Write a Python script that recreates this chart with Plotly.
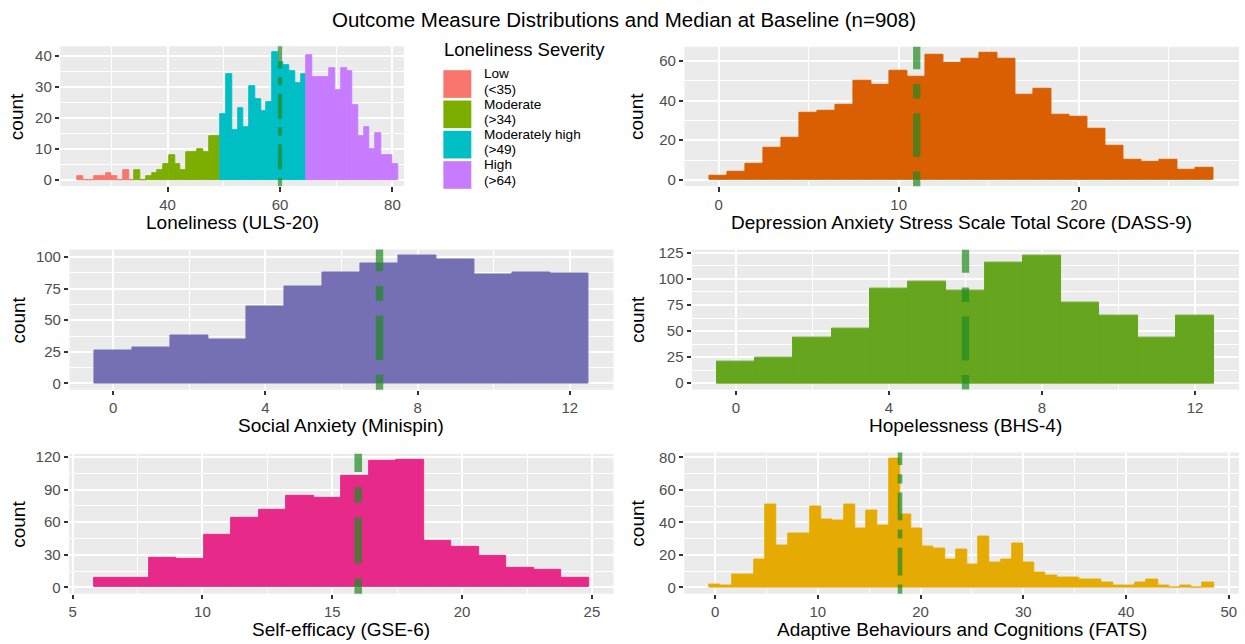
import numpy as np
import plotly.graph_objects as go

W, H = 1245, 644
FONT = "Liberation Sans, Arial, Helvetica, sans-serif"

# ------------------------------------------------------------------ data
title_text = "Outcome Measure Distributions and Median at Baseline (n=908)"

# Loneliness (ULS-20) histogram: 56 bins
lon_bin_start = 23.94
lon_bin_width = 1.02
lon_counts = [1, 0, 0, 1, 1, 2, 1, 0, 3, 0,
              3, 0, 1, 2, 3, 5, 8, 5, 3, 9, 9, 10, 9, 14, 14,
              21, 34, 16, 23, 17, 30, 26, 22, 25, 41, 38, 37, 35, 31, 34,
              40, 33, 33, 33, 36, 29, 36, 35, 24, 14, 17, 10, 15, 8, 8, 5]
lon_cut_points = [35, 50, 65]
lon_groups = ["Low", "Moderate", "Moderately high", "High"]
lon_group_limits = ["(&lt;35)", "(&gt;34)", "(&gt;49)", "(&gt;64)"]
lon_colors = ["#F8766D", "#7CAE00", "#00BFC4", "#C77CFF"]
lon_median = 60
lon_xticks = [40, 60, 80]
lon_yticks = [0, 10, 20, 30, 40]

# DASS-9
dass_scores = list(range(0, 28))
dass_counts = [2, 4, 8, 16, 21, 34, 35, 38, 50, 48, 55, 52, 63, 59, 61, 64,
               61, 43, 46, 33, 32, 26, 17, 10, 9, 10, 5, 6]
dass_median = 11
dass_xticks = [0, 10, 20]
dass_yticks = [0, 20, 40, 60]

# Mini-SPIN
spin_scores = list(range(0, 13))
spin_counts = [26, 28, 38, 35, 61, 77, 88, 95, 101, 98, 86, 88, 87]
spin_median = 7
spin_xticks = [0, 4, 8, 12]
spin_yticks = [0, 25, 50, 75, 100]

# BHS-4
bhs_scores = list(range(0, 13))
bhs_counts = [21, 25, 44, 52, 91, 97, 89, 116, 122, 77, 65, 44, 65]
bhs_median = 6
bhs_xticks = [0, 4, 8, 12]
bhs_yticks = [0, 25, 50, 75, 100, 125]

# GSE-6 histogram: 18 bins
gse_bin_start = 5.82
gse_bin_width = 1.0588
gse_counts = [9, 9, 27, 26, 48, 64, 71, 84, 82, 103, 116, 117, 43, 37, 29, 18, 16, 9]
gse_median = 16
gse_xticks = [5, 10, 15, 20, 25]
gse_yticks = [0, 30, 60, 90, 120]

# FATS histogram: 45 bins centred on multiples of the bin width
fats_bin_width = 1.0909
fats_counts = [2, 1, 8, 8, 17, 51, 26, 33, 33, 50, 42, 41, 51, 36, 47, 38, 79, 45,
               36, 25, 24, 17, 23, 14, 31, 15, 17, 27, 15, 9, 7, 6, 6, 5, 5, 3,
               1, 1, 3, 5, 1, 0, 1, 0, 3]
fats_median = 18
fats_xticks = [0, 10, 20, 30, 40, 50]
fats_yticks = [0, 20, 40, 60, 80]

# ------------------------------------------------------------------ helpers
def fx(px):
    return px / W


def fy(py):
    return 1 - py / H


def minor_of(ticks):
    step = ticks[1] - ticks[0]
    ext = [ticks[0] - step] + list(ticks) + [ticks[-1] + step]
    return [(a + b) / 2 for a, b in zip(ext[:-1], ext[1:])]


def expand(lo, hi, mult=0.05):
    d = (hi - lo) * mult
    return (lo - d, hi + d)


MEDIAN_COLOR = "#228B22"

fig = go.Figure()


def add_bars(i, centers, counts, width, color):
    ax = "" if i == 0 else str(i + 1)
    fig.add_trace(go.Bar(
        x=list(centers), y=list(counts), width=[width] * len(counts),
        marker=dict(color=color, line=dict(color=color, width=1.0)),
        xaxis="x" + ax, yaxis="y" + ax, showlegend=False,
    ))


# Loneliness, coloured by severity group
lon_centers = lon_bin_start + (np.arange(len(lon_counts)) + 0.5) * lon_bin_width
lon_group_idx = np.digitize(np.round(lon_centers), lon_cut_points)
for g, col in enumerate(lon_colors):
    sel = lon_group_idx == g
    add_bars(0, lon_centers[sel], np.array(lon_counts)[sel], lon_bin_width, col)

add_bars(1, dass_scores, dass_counts, 1.0, "#D95F02")
add_bars(2, spin_scores, spin_counts, 1.0, "#7570B3")
add_bars(3, bhs_scores, bhs_counts, 1.0, "#66A61E")
gse_centers = gse_bin_start + (np.arange(len(gse_counts)) + 0.5) * gse_bin_width
add_bars(4, gse_centers, gse_counts, gse_bin_width, "#E7298A")
fats_centers = np.arange(len(fats_counts)) * fats_bin_width
add_bars(5, fats_centers, fats_counts, fats_bin_width, "#E6AB02")

# panel geometry (pixels): left, right, top, bottom
panels = [
    dict(box=(59.3, 403.3, 40.7, 182.4), xrange=(20.9, 82.06), xticks=lon_xticks, yticks=lon_yticks,
         ymax=max(lon_counts), median=lon_median, lw=4.2, count_x=15,
         xtitle="Loneliness (ULS-20)"),
    dict(box=(684, 1239, 41.3, 182.4), xrange=expand(-0.5, 27.5), xticks=dass_xticks, yticks=dass_yticks,
         ymax=max(dass_counts), median=dass_median, lw=7.3, count_x=636,
         xtitle="Depression Anxiety Stress Scale Total Score (DASS-9)"),
    dict(box=(68.5, 613, 246.6, 388.5), xrange=expand(-0.5, 12.5), xticks=spin_xticks, yticks=spin_yticks,
         ymax=max(spin_counts), median=spin_median, lw=7.4, count_x=18,
         xtitle="Social Anxiety (Minispin)"),
    dict(box=(691.6, 1239, 246.7, 388.4), xrange=expand(-0.5, 12.5), xticks=bhs_xticks, yticks=bhs_yticks,
         ymax=max(bhs_counts), median=bhs_median, lw=7.3, count_x=637,
         xtitle="Hopelessness (BHS-4)"),
    dict(box=(68.2, 613, 453.5, 595.1),
         xrange=expand(gse_bin_start, gse_bin_start + len(gse_counts) * gse_bin_width),
         xticks=gse_xticks, yticks=gse_yticks,
         ymax=max(gse_counts), median=gse_median, lw=7.6, count_x=18,
         xtitle="Self-efficacy (GSE-6)"),
    dict(box=(683.8, 1239, 452.2, 595.2),
         xrange=expand(-0.5 * fats_bin_width, (len(fats_counts) - 0.5) * fats_bin_width),
         xticks=fats_xticks, yticks=fats_yticks,
         ymax=max(fats_counts), median=fats_median, lw=4.6, count_x=637,
         xtitle="Adaptive Behaviours and Cognitions (FATS)"),
]

shapes = []
annotations = []
layout_axes = {}
for i, p in enumerate(panels):
    l, r, t, b = p["box"]
    ax = "" if i == 0 else str(i + 1)
    tickfont = dict(family=FONT, size=15, color="#4D4D4D")
    common = dict(showgrid=True, gridcolor="white", gridwidth=2.2, zeroline=False, showline=False,
                  ticks="outside", ticklen=4.5, tickwidth=2, tickcolor="#333333",
                  tickfont=tickfont, tickmode="array", fixedrange=True)
    layout_axes["xaxis" + ax] = dict(
        common, domain=[fx(l), fx(r)], range=list(p["xrange"]), anchor="y" + ax,
        tickvals=p["xticks"],
        minor=dict(tickvals=minor_of(p["xticks"]), showgrid=True, gridcolor="white", gridwidth=1.1, ticks=""),
    )
    ymax = p["ymax"]
    layout_axes["yaxis" + ax] = dict(
        common, domain=[fy(b), fy(t)], range=[-0.05 * ymax, 1.05 * ymax], anchor="x" + ax,
        tickvals=p["yticks"],
        minor=dict(tickvals=minor_of(p["yticks"]), showgrid=True, gridcolor="white", gridwidth=1.1, ticks=""),
    )
    w = p["lw"]
    shapes.append(dict(
        type="line", xref="x" + ax, yref=("y" + ax) + " domain", x0=p["median"], x1=p["median"], y0=0, y1=1,
        line=dict(color=MEDIAN_COLOR, width=w, dash=f"{2*w:.1f}px,{2*w:.1f}px,{6*w:.1f}px,{2*w:.1f}px"),
        opacity=0.7, layer="above",
    ))
    annotations.append(dict(
        text=p["xtitle"], x=fx((l + r) / 2), y=fy(b + 36.6), xref="paper", yref="paper",
        xanchor="center", yanchor="middle", showarrow=False,
        font=dict(family=FONT, size=19, color="black"),
    ))
    annotations.append(dict(
        text="count", x=fx(p["count_x"]), y=fy((t + b) / 2), xref="paper", yref="paper",
        xanchor="center", yanchor="middle", showarrow=False, textangle=-90,
        font=dict(family=FONT, size=19, color="black"),
    ))

# title
annotations.append(dict(
    text=title_text, x=fx(623.5), y=fy(13.5), xref="paper", yref="paper",
    xanchor="center", yanchor="middle", showarrow=False,
    font=dict(family=FONT, size=20.5, color="black"),
))

# legend for loneliness severity (drawn by hand to mimic ggplot keys)
annotations.append(dict(
    text="Loneliness Severity", x=fx(441.5), y=fy(44.5), xref="paper", yref="paper",
    xanchor="left", yanchor="middle", showarrow=False,
    font=dict(family=FONT, size=18.5, color="black"),
))
key_l, key_size, key_top, key_step = 442.7, 28, 65, 30.7
for k, (name, lim, col) in enumerate(zip(lon_groups, lon_group_limits, lon_colors)):
    top = key_top + k * key_step
    shapes.append(dict(type="rect", xref="paper", yref="paper",
                       x0=fx(key_l), x1=fx(key_l + key_size), y0=fy(top + key_size), y1=fy(top),
                       fillcolor=col, line=dict(width=0), layer="above"))
    cy = top + key_size / 2 - 2.5
    for txt, dy in ((name, -key_step / 4), (lim, key_step / 4)):
        annotations.append(dict(
            text=txt, x=fx(481.5), y=fy(cy + dy), xref="paper", yref="paper",
            xanchor="left", yanchor="middle", showarrow=False,
            font=dict(family=FONT, size=13.6, color="black"),
        ))

fig.update_layout(
    width=W, height=H, autosize=False,
    margin=dict(l=0, r=0, t=0, b=0),
    paper_bgcolor="white", plot_bgcolor="#EBEBEB",
    barmode="overlay", bargap=0,
    font=dict(family=FONT),
    shapes=shapes, annotations=annotations,
    showlegend=False,
    **layout_axes,
)

fig.write_html("out.html")
